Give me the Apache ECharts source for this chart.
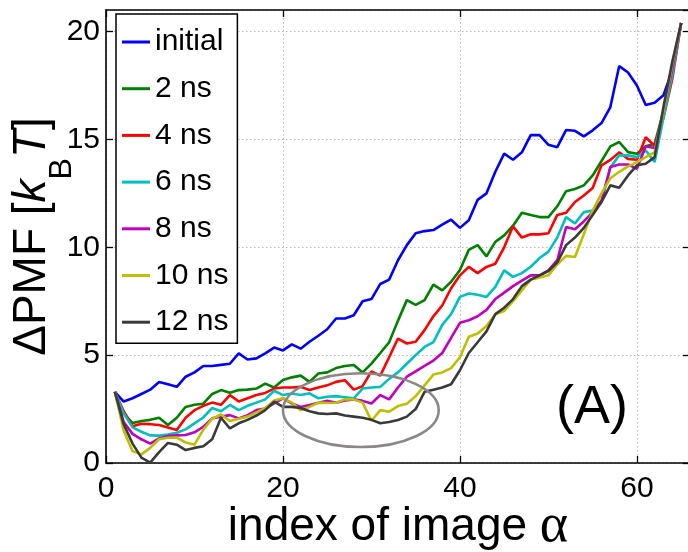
<!DOCTYPE html>
<html>
<head>
<meta charset="utf-8">
<title>ΔPMF along the string</title>
<script src="https://cdn.jsdelivr.net/npm/echarts@6/dist/echarts.min.js"></script>
<style>
  html, body { margin: 0; padding: 0; background: #fff; }
  #chart { width: 688px; height: 552px; }
</style>
</head>
<body>
<div id="chart"></div>
<script>
// Image index along the string (1 … 65)
const imageIndex = Array.from({ length: 65 }, (_, k) => k + 1);

// ΔPMF profiles in units of kBT
const pmfInitial = [3.3, 2.85, 3.0, 3.2, 3.4, 3.75, 3.65, 3.53, 4.0, 4.2,
  4.5, 4.5, 4.55, 4.6, 5.08, 4.8, 4.85, 5.08, 5.35, 5.22,
  5.5, 5.3, 5.62, 5.9, 6.2, 6.7, 6.7, 6.85, 7.5, 7.6,
  8.3, 8.5, 9.4, 10.1, 10.65, 10.75, 10.8, 11.05, 11.28, 10.9,
  11.25, 12.2, 12.5, 13.5, 14.34, 14.06, 14.4, 15.2, 15.2, 14.75,
  14.64, 15.44, 15.4, 15.14, 15.42, 15.76, 16.5, 18.4, 18.1, 17.5,
  16.6, 16.7, 17.05, 18.2, 20.4];
const pmf2ns = [3.3, 2.3, 1.85, 1.95, 2.0, 2.1, 1.76, 2.1, 2.6, 2.7,
  2.75, 3.2, 3.38, 3.26, 3.38, 3.4, 3.45, 3.68, 3.5, 3.85,
  3.97, 4.05, 3.76, 4.15, 4.2, 4.4, 4.5, 4.54, 4.2, 4.61,
  5.1, 5.6, 6.6, 7.55, 7.33, 7.55, 8.27, 8.0, 8.4, 8.95,
  9.88, 10.1, 9.58, 10.25, 10.55, 11.0, 11.6, 11.5, 11.4, 11.4,
  11.9, 12.6, 12.7, 12.87, 13.33, 14.0, 14.68, 14.88, 14.41, 14.34,
  14.68, 14.8, 16.3, 18.2, 20.4];
const pmf4ns = [3.3, 2.4, 1.7, 1.82, 1.8, 1.76, 1.65, 1.53, 2.1, 2.45,
  2.65, 2.8, 2.7, 3.15, 2.85, 3.0, 3.15, 3.25, 3.45, 3.5,
  3.5, 3.53, 3.38, 3.5, 3.6, 3.76, 3.84, 3.4, 3.56, 4.25,
  4.05, 4.9, 5.77, 5.54, 5.62, 6.16, 6.8, 7.3, 8.1, 8.7,
  9.09, 8.8, 9.09, 9.24, 10.0, 10.97, 10.45, 10.6, 10.6, 10.65,
  11.5, 11.6, 12.1, 12.4, 12.75, 13.8, 14.05, 14.4, 14.1, 14.06,
  15.1, 14.7, 16.0, 17.8, 20.4];
const pmf6ns = [3.3, 2.3, 1.65, 1.45, 1.28, 1.27, 1.32, 1.4, 1.56, 1.84,
  2.11, 2.55, 2.4, 2.69, 2.45, 2.65, 2.8, 2.95, 3.35, 3.15,
  3.22, 3.15, 3.23, 3.0, 3.07, 3.1, 3.05, 3.0, 3.45, 3.5,
  3.53, 3.9, 4.2, 4.6, 5.0, 5.38, 5.6, 6.4, 6.9, 7.7,
  7.86, 7.8, 7.7, 8.16, 8.93, 8.63, 8.8, 9.1, 9.5, 9.8,
  10.45, 11.4, 11.1, 11.63, 11.7, 12.1, 13.7, 14.26, 14.26, 14.18,
  14.49, 13.95, 16.0, 18.0, 20.4];
const pmf8ns = [3.3, 1.9, 1.35, 1.1, 0.9, 1.14, 1.25, 1.28, 1.3, 1.42,
  1.68, 2.07, 2.15, 2.22, 2.07, 2.22, 2.45, 2.53, 2.76, 3.0,
  2.76, 2.6, 2.69, 2.79, 2.88, 2.79, 2.9, 2.95, 2.88, 2.76,
  3.15, 2.95, 3.5, 4.0, 4.25, 4.5, 4.75, 5.1, 5.8, 6.5,
  6.62, 6.8, 7.1, 7.6, 7.9, 8.2, 8.45, 8.7, 8.7, 8.93,
  9.4, 10.94, 10.84, 11.2, 11.63, 12.17, 13.72, 13.84, 13.84, 13.64,
  14.68, 14.6, 16.3, 18.3, 20.4];
const pmf10ns = [3.3, 1.5, 0.55, 0.4, 0.7, 1.1, 1.17, 1.18, 0.95, 0.85,
  1.55, 2.05, 2.25, 1.95, 2.05, 2.15, 2.35, 2.55, 2.9, 3.0,
  2.8, 2.45, 2.6, 2.8, 2.78, 2.79, 2.95, 2.95, 2.8, 1.96,
  2.45, 2.38, 2.64, 2.75, 3.1, 3.6, 4.1, 4.2, 4.4, 4.9,
  5.85, 6.0, 6.35, 6.9, 7.05, 7.5, 8.0, 8.5, 8.6, 8.7,
  9.2, 9.6, 9.55, 10.6, 11.7, 12.5, 13.2, 13.5, 13.75, 13.95,
  14.18, 14.41, 16.3, 18.5, 20.4];
const pmf12ns = [3.3, 1.8, 0.9, 0.25, 0.02, 0.5, 0.93, 0.85, 0.6, 0.7,
  0.78, 1.1, 2.1, 1.6, 1.84, 2.0, 2.2, 2.45, 2.84, 2.6,
  2.6, 2.55, 2.4, 2.3, 2.27, 2.3, 2.2, 2.15, 2.1, 2.0,
  1.84, 1.9, 1.99, 2.15, 2.5, 3.3, 3.4, 3.5, 3.65, 4.3,
  5.1, 5.6, 6.1, 6.9, 7.2, 7.6, 8.2, 8.5, 8.7, 8.9,
  9.3, 10.1, 10.45, 10.9, 11.5, 12.1, 12.87, 12.76, 13.33, 13.8,
  13.87, 14.18, 16.5, 18.6, 20.4];

const seriesNames = ['initial', '2 ns', '4 ns', '6 ns', '8 ns', '10 ns', '12 ns'];
const seriesValues = [pmfInitial, pmf2ns, pmf4ns, pmf6ns, pmf8ns, pmf10ns, pmf12ns];
const seriesColors = ['#0000ff', '#008000', '#ff0000', '#00bfbf', '#bf00bf', '#bfbf00', '#3a3a3a'];

// Axis tick values
const xTicks = [0, 20, 40, 60];
const yTicks = [0, 5, 10, 15, 20];

// Highlighted region: centre (index, ΔPMF) and semi-axes in data units
const ellipseRegion = [[28.8, 2.45, 8.8, 1.71]];

const FONT = '"Liberation Sans", Arial, Helvetica, sans-serif';

const chart = echarts.init(document.getElementById('chart'), null, { renderer: 'canvas' });

const lineSeries = seriesNames.map((name, s) => ({
  name: name,
  type: 'line',
  xAxisIndex: 0,
  yAxisIndex: 0,
  data: imageIndex.map((x, k) => [x, seriesValues[s][k]]),
  color: seriesColors[s],
  showSymbol: false,
  symbol: 'none',
  lineStyle: { width: 2.6, color: seriesColors[s] },
  z: 2 + s * 0.01,
  silent: true,
  animation: false
}));

const ellipseSeries = {
  type: 'custom',
  name: 'region',
  xAxisIndex: 0,
  yAxisIndex: 0,
  silent: true,
  z: 3,
  data: ellipseRegion,
  encode: { x: 0, y: 1 },
  renderItem: function (params, api) {
    const c = api.coord([api.value(0), api.value(1)]);
    const r = api.size([api.value(2), api.value(3)]);
    return {
      type: 'ellipse',
      shape: { cx: c[0], cy: c[1], rx: r[0], ry: r[1] },
      style: { fill: 'none', stroke: '#8c8787', lineWidth: 2.6 }
    };
  },
  animation: false
};

const tickLabelStyle = { fontSize: 30, color: '#000', fontFamily: FONT };

const option = {
  backgroundColor: '#fff',
  animation: false,
  grid: { left: 106, top: 10, width: 584, height: 453, containLabel: false, outerBoundsMode: 'none' },
  legend: {
    data: seriesNames,
    orient: 'vertical',
    left: 116,
    top: 14,
    icon: 'rect',
    itemWidth: 28,
    itemHeight: 3,
    itemGap: 16.7,
    padding: [13, 9, 6, 6],
    borderColor: '#000',
    borderWidth: 1.5,
    borderRadius: 0,
    backgroundColor: '#fff',
    selectedMode: false,
    textStyle: { fontSize: 30, lineHeight: 30, color: '#000', fontFamily: FONT },
    z: 10
  },
  xAxis: [{
    type: 'value',
    position: 'bottom',
    min: 0,
    max: 66,
    interval: 20,
    name: '{t|index of image }{a|α}',
    nameLocation: 'middle',
    nameGap: 39,
    nameMoveOverlap: false,
    nameTextStyle: {
      rich: {
        t: { fontSize: 46, fontFamily: FONT, color: '#000', lineHeight: 50 },
        a: { fontSize: 54, fontFamily: '"Liberation Serif", "DejaVu Serif", serif', color: '#000', lineHeight: 50 }
      }
    },
    axisLine: { show: true, onZero: false, lineStyle: { color: '#000', width: 1.6 } },
    axisTick: { show: true, inside: true, length: 7, lineStyle: { color: '#000', width: 1.3 } },
    axisLabel: Object.assign({ margin: 11, showMaxLabel: false,
      formatter: v => (xTicks.indexOf(v) >= 0 ? String(v) : '') }, tickLabelStyle),
    splitLine: { show: true, lineStyle: { color: '#b8b8b8', width: 1, type: [1.5, 2.5] } }
  }, {
    type: 'value',
    position: 'top',
    min: 0,
    max: 66,
    interval: 20,
    axisLine: { show: true, onZero: false, lineStyle: { color: '#000', width: 1.6 } },
    axisTick: { show: true, inside: true, length: 7, lineStyle: { color: '#000', width: 1.3 } },
    axisLabel: { show: false },
    splitLine: { show: false }
  }],
  yAxis: [{
    type: 'value',
    position: 'left',
    min: 0,
    max: 21,
    interval: 5,
    name: '{m|ΔPMF [}{i|k}{s|B}{i|T}{m|]}',
    nameLocation: 'middle',
    nameRotate: 90,
    nameGap: 51,
    nameMoveOverlap: false,
    nameTextStyle: {
      rich: {
        m: { fontSize: 46, fontFamily: FONT, color: '#000', lineHeight: 46, verticalAlign: 'top' },
        i: { fontSize: 46, fontFamily: FONT, fontStyle: 'italic', color: '#000', lineHeight: 46, verticalAlign: 'top' },
        s: { fontSize: 32, fontFamily: FONT, color: '#000', lineHeight: 32, verticalAlign: 'top', padding: [37, 0, 0, 0] }
      }
    },
    axisLine: { show: true, onZero: false, lineStyle: { color: '#000', width: 1.6 } },
    axisTick: { show: true, inside: true, length: 7, lineStyle: { color: '#000', width: 1.3 } },
    axisLabel: Object.assign({ margin: 6, showMaxLabel: false,
      formatter: v => (yTicks.indexOf(v) >= 0 ? String(v) : '') }, tickLabelStyle),
    splitLine: { show: true, lineStyle: { color: '#b8b8b8', width: 1, type: [1.5, 2.5] } }
  }, {
    type: 'value',
    position: 'right',
    min: 0,
    max: 21,
    interval: 5,
    axisLine: { show: true, onZero: false, lineStyle: { color: '#000', width: 1.6 } },
    axisTick: { show: true, inside: true, length: 7, lineStyle: { color: '#000', width: 1.3 } },
    axisLabel: { show: false },
    splitLine: { show: false }
  }],
  graphic: [{
    type: 'text',
    left: 556,
    top: 381,
    silent: true,
    z: 20,
    style: { text: '(A)', fontSize: 54, fontFamily: FONT, fill: '#000' }
  }],
  series: lineSeries.concat([ellipseSeries])
};

chart.setOption(option);
</script>
</body>
</html>
